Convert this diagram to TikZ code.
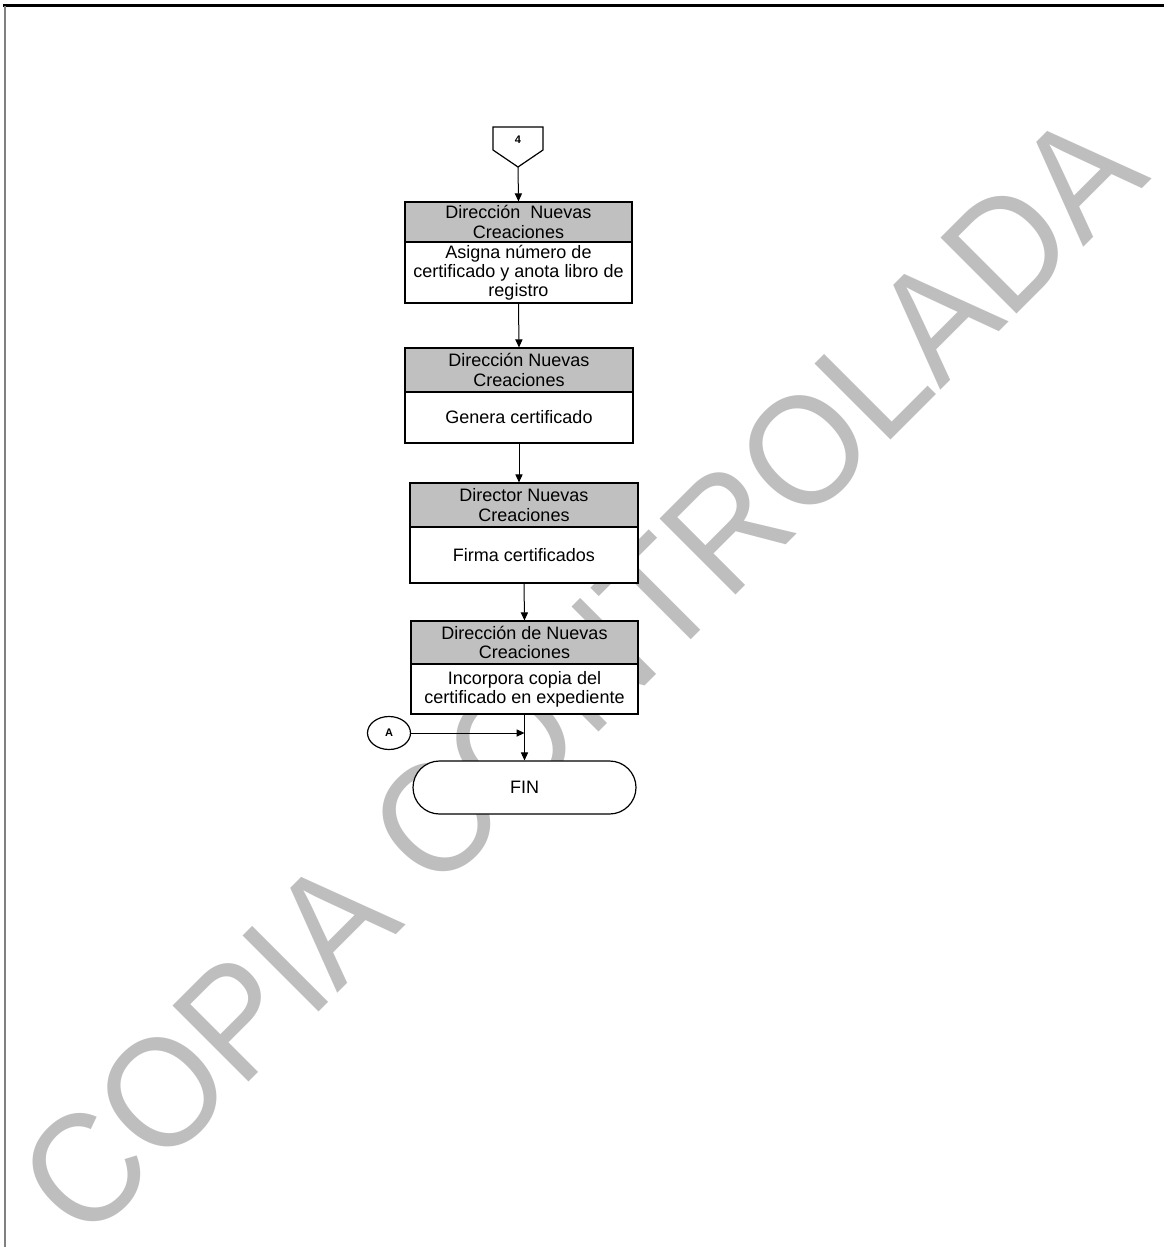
\documentclass[tikz,border=0pt]{standalone}
\usepackage{fontspec}
\setmainfont{Liberation Sans}
\usetikzlibrary{shapes.geometric,shapes.misc,arrows.meta}
\definecolor{hdr}{RGB}{192,192,192}
\definecolor{wm}{RGB}{190,190,190}
\definecolor{framegray}{RGB}{128,128,128}
\begin{document}
\begin{tikzpicture}[x=0.5pt,y=-0.5pt,
  boxtext/.style={rectangle, draw=black, line width=0.6pt, inner sep=0pt, align=center, font=\fontsize{9}{9.6}\selectfont},
  hdrbox/.style={boxtext, fill=hdr},
  bodybox/.style={boxtext, fill=white},
  smalllbl/.style={font=\bfseries\fontsize{5.5}{6}\selectfont},
  arr/.style={-{Triangle[length=4pt,width=3.6pt]}, line width=0.5pt}]
\useasboundingbox (0,0) rectangle (1164,1247);

% watermark
\node[rotate=45, anchor=base, inner sep=0pt, text=wm, font=\fontsize{73}{80}\selectfont] (wmark) at (619,712) {\scalebox{1}[1.07]{COPIA CONTROLADA}};

% frame
\draw[line width=1.5pt] (3,5.5) -- (1164,5.5);
\draw[framegray, line width=1pt] (5,6) -- (5,1247);

% off-page connector 4
\draw[line width=0.6pt, fill=white] (493,127) -- (543,127) -- (543,150) -- (518,167) -- (493,150) -- cycle;
\node[smalllbl] (c4) at (518,140) {4};
\coordinate (c4tip) at (518,167);

% box 1
\node[hdrbox, minimum width=113.5pt, minimum height=20pt] (h1) at (518.5,222) {Dirección\ \ Nuevas\\Creaciones};
\node[bodybox, minimum width=113.5pt, minimum height=30.5pt] (b1) at (518.5,272.5) {Asigna número de\\certificado y anota libro de\\registro};

% box 2
\node[hdrbox, minimum width=114pt, minimum height=22pt] (h2) at (519,370) {Dirección Nuevas\\Creaciones};
\node[bodybox, minimum width=114pt, minimum height=25.5pt] (b2) at (519,417.5) {Genera certificado};

% box 3
\node[hdrbox, minimum width=114pt, minimum height=22pt] (h3) at (524,505) {Director Nuevas\\Creaciones};
\node[bodybox, minimum width=114pt, minimum height=28pt] (b3) at (524,555) {Firma certificados};

% box 4
\node[hdrbox, minimum width=113.5pt, minimum height=21.5pt] (h4) at (524.5,642.5) {Dirección de Nuevas\\Creaciones};
\node[bodybox, minimum width=113.5pt, minimum height=25pt] (b4) at (524.5,689) {Incorpora copia del\\certificado en expediente};

% connector A
\node[ellipse, draw=black, line width=0.6pt, fill=white, minimum width=21.5pt, minimum height=16.5pt, inner sep=0pt, smalllbl] (cA) at (389,733) {A};

% end
\node[rounded rectangle, draw=black, line width=0.6pt, fill=white, minimum width=111.5pt, minimum height=26.5pt, inner sep=0pt, font=\fontsize{9}{9.6}\selectfont] (fin) at (524.5,787.5) {FIN};

% arrows
\draw[arr] (c4tip) -- (h1.north);
\draw[arr] (b1.south) -- (h2.north);
\draw[arr] (b2.south) -- (b2.south |- h3.north);
\draw[arr] (b3.south) -- (h4.north);
\draw[arr] (b4.south) -- (b4.south |- fin.north);
\draw[arr] (cA.east) -- (cA.east -| b4.south);
\end{tikzpicture}
\end{document}
